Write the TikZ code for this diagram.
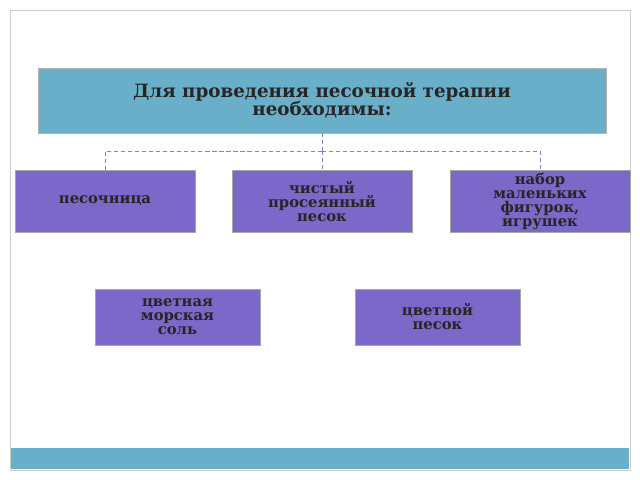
\documentclass[tikz,border=0pt]{standalone}
\usepackage{fontspec}
\setmainfont{DejaVu Serif}
\usetikzlibrary{positioning}
\definecolor{barblue}{HTML}{6AAFC9}
\definecolor{boxviolet}{HTML}{7B68C8}
\definecolor{linkviolet}{HTML}{8A7CC8}
\begin{document}
\begin{tikzpicture}[x=0.025cm, y=-0.025cm,
        item/.style={rectangle, draw=gray!70, fill=boxviolet, minimum width=4.5cm, minimum height=1.55cm, align=center, font=\bfseries\fontsize{10.5}{10}\selectfont, text=black!85, inner sep=1pt},
        link/.style={densely dashed, draw=linkviolet, thin}
    ]
        \useasboundingbox (0,0) rectangle (640,480);
        % Frame and bottom bar
        \draw[gray!40, fill=white] (10,10) rectangle (630,470);
        \fill[barblue] (11,448) rectangle (629,469);
        
        % Title
        \node[rectangle, draw=gray!60, fill=barblue, minimum width=14.2cm, minimum height=1.62cm, align=center, font=\bfseries\fontsize{13}{13}\selectfont, text=black!85] (title) at (322,100.5) {Для проведения песочной терапии\\необходимы:};
        
        % Items
        \node[item] (sandbox) at (105,201) {песочница};
        \node[item] (sand) at (322,201.5) {чистый\\просеянный\\песок};
        \node[item] (toys) at (540,201.5) {набор\\маленьких\\фигурок,\\игрушек};
        \node[item, minimum width=4.125cm, minimum height=1.4cm] (salt) at (177.5,317) {цветная\\морская\\соль};
        \node[item, minimum width=4.125cm, minimum height=1.4cm] (colsand) at (437.5,317) {цветной\\песок};
        
        % Connect
        \coordinate (hub) at (322,151);
        \draw[link] (title.south) -- (hub);
        \draw[link] (hub) -| (sandbox.north);
        \draw[link] (hub) -- (sand.north);
        \draw[link] (hub) -| (toys.north);
    \end{tikzpicture}
\end{document}
